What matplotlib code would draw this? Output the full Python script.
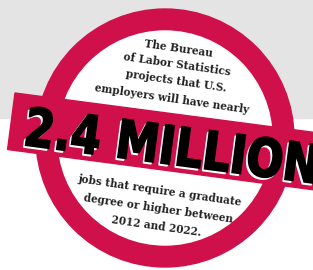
import matplotlib.pyplot as plt
from matplotlib.patches import Circle, Rectangle, PathPatch
from matplotlib.textpath import TextPath
from matplotlib.font_manager import FontProperties
import matplotlib.transforms as mtransforms

# texts of the badge
top_lines = ['The Bureau', 'of Labor Statistics', 'projects that U.S.',
             'employers will have nearly']
top_pos = [(179, 48), (177, 64), (176, 81), (172, 99)]
big_number = '2.4 MILLION'
bottom_lines = ['jobs that require a graduate', 'degree or higher between',
                '2012 and 2022.']
bottom_pos = [(160, 190), (158, 208), (156, 226)]

red = '#d0104a'
gray = '#e4e4e4'
angle = 7.5

fig = plt.figure(figsize=(3.13, 2.70), dpi=100)
ax = fig.add_axes([0, 0, 1, 1])
ax.set_xlim(0, 313)
ax.set_ylim(270, 0)
ax.axis('off')

ax.add_patch(Rectangle((0, 0), 313, 118, color=gray, zorder=0))
ax.add_patch(Circle((165, 138), 129, color=red, zorder=1))
ax.add_patch(Circle((165, 138), 107, color='white', zorder=2))

# banner
rot = mtransforms.Affine2D().rotate_deg_around(15, 93, angle) + ax.transData
ax.add_patch(Rectangle((15, 93), 340, 57, color=red, zorder=3, transform=rot))

for s, (x, y) in zip(top_lines + bottom_lines, top_pos + bottom_pos):
    ax.text(x, y, s, ha='center', va='center', rotation=-angle * 1.1,
            family='DejaVu Serif', weight='bold', fontsize=7.6, color='#222222',
            rotation_mode='anchor', zorder=4)

# condensed big number
tp = TextPath((0, 0), big_number, size=55,
              prop=FontProperties(family='DejaVu Sans', weight='heavy'))
ext = tp.get_extents()
sx = 290 / ext.width
sy = 40 / ext.height
for dx, dy, col, z, lw in [(-2, 2, 'white', 5, 1.0), (0, 0, 'black', 6, 1.3)]:
    tr = (mtransforms.Affine2D()
          .translate(-ext.x0 - ext.width / 2, -ext.y0 - ext.height / 2)
          .scale(sx, -sy)
          .rotate_deg(angle)
          .translate(172 + dx, 145 + dy)) + ax.transData
    ax.add_patch(PathPatch(tp, facecolor=col, edgecolor=col, lw=lw,
                           transform=tr, zorder=z))

plt.savefig('out.png', dpi=100)
